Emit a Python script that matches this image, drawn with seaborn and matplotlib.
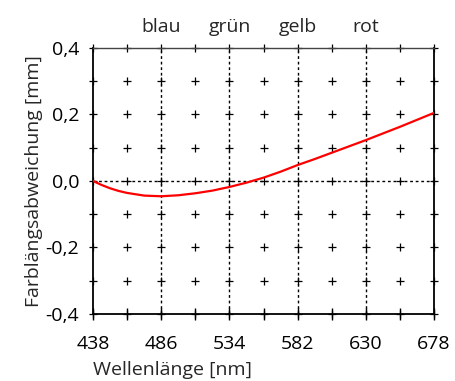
import numpy as np
import pandas as pd
import matplotlib
matplotlib.use("Agg")
import matplotlib.pyplot as plt
import seaborn as sns
from matplotlib.ticker import FuncFormatter

# Data
wavelength = [438, 444, 450, 456, 462, 474, 486, 498, 510, 522, 534, 546, 558,
              570, 582, 594, 606, 618, 630, 642, 654, 666, 678]
deviation = [0.000, -0.012, -0.022, -0.030, -0.036, -0.044, -0.046, -0.043,
             -0.037, -0.029, -0.018, -0.005, 0.010, 0.028, 0.048, 0.066,
             0.085, 0.104, 0.123, 0.143, 0.163, 0.184, 0.205]
x_ticks = [438, 462, 486, 510, 534, 558, 582, 606, 630, 654, 678]
x_labels = ["438", "", "486", "", "534", "", "582", "", "630", "", "678"]
y_ticks = [-0.4, -0.3, -0.2, -0.1, 0.0, 0.1, 0.2, 0.3, 0.4]
color_pos = [486, 534, 582, 630]
color_names = ["blau", "grün", "gelb", "rot"]

df = pd.DataFrame({"Wellenlänge": wavelength, "Abweichung": deviation})

sns.set_style("white")
plt.rcParams["font.family"] = ["Open Sans", "DejaVu Sans"]
plt.rcParams["font.size"] = 14

fig = plt.figure(figsize=(4.56, 3.81), dpi=100)
ax = fig.add_axes([0.204, 0.176, 0.748, 0.698])

# grid of plus markers
gx, gy = np.meshgrid(x_ticks, y_ticks)
ax.scatter(gx.ravel(), gy.ravel(), marker="+", s=40, color="black",
           linewidths=0.9, zorder=2, clip_on=False)

# dotted reference lines
for xp in color_pos:
    ax.axvline(xp, color="black", linestyle=(0, (2, 2)), linewidth=1.0, zorder=1)
ax.axhline(0, color="black", linestyle=(0, (2, 2)), linewidth=1.0, zorder=1)

sns.lineplot(data=df, x="Wellenlänge", y="Abweichung", color="red",
             linewidth=1.6, ax=ax, zorder=3)

ax.set_xlim(438, 678)
ax.set_ylim(-0.4, 0.4)
ax.set_xticks(x_ticks)
ax.set_xticklabels(x_labels)
ax.set_yticks(y_ticks)
ax.yaxis.set_major_formatter(FuncFormatter(
    lambda v, p: ("%.1f" % v).replace(".", ",") if round(v * 10) % 2 == 0 else ""))
ax.tick_params(direction="inout", length=8, width=1.0, colors="black",
               labelsize=14, pad=6)
ax.tick_params(axis="x", pad=11)

for side in ["left", "bottom", "right"]:
    ax.spines[side].set_color("black")
    ax.spines[side].set_linewidth(1.3)
ax.spines["top"].set_color("#444444")
ax.spines["top"].set_linewidth(1.0)

ax.set_xlabel("Wellenlänge [nm]", fontsize=14, labelpad=6, loc="left")
ax.set_ylabel("Farblängsabweichung [mm]", fontsize=14, labelpad=2)

top = ax.twiny()
top.set_xlim(ax.get_xlim())
top.set_xticks(color_pos)
top.set_xticklabels(color_names)
top.tick_params(length=0, labelsize=14, pad=9)
for s in top.spines.values():
    s.set_visible(False)

fig.savefig("out.png", dpi=100)
